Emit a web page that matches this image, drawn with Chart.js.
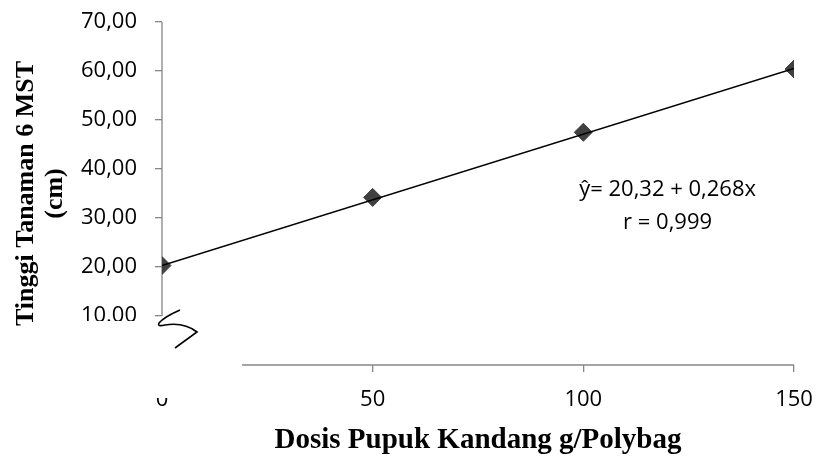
<!DOCTYPE html>
<html>
<head>
<meta charset="utf-8">
<script src="https://cdn.jsdelivr.net/npm/chart.js@4"></script>
<style>
  html, body { margin: 0; padding: 0; background: #fff; }
  #wrap { width: 817px; height: 457px; }
</style>
</head>
<body>
<div id="wrap"><canvas id="myChart" width="817" height="457"></canvas></div>
<script>
// dosis pupuk kandang (g/polybag) vs tinggi tanaman 6 MST (cm)
let dosis = [0, 50, 100, 150]
let tinggi = [20.3, 34.2, 47.5, 60.4]
// regression line y = 20,32 + 0,268x, end points
let trendX = [0, 150]
let trendY = [20.32, 60.52]
let xTickLabels = ['0', '50', '100', '150']
let yTickValues = [0, 10, 20, 30, 40, 50, 60, 70]
let yTickLabels = ['', '10.00', '20,00', '30,00', '40,00', '50,00', '60,00', '70,00']
let eqText = ['ŷ= 20,32 + 0,268x', 'r = 0,999']

var axisGray = '#868686';
var sans = "'Open Sans', 'Liberation Sans', sans-serif";
var serif = "'Liberation Serif', 'DejaVu Serif', serif";

/*~~~~~~~~~~~~~~~~~~~~~~ extras drawn on top ~~~~~~~~~~~~~~~~~~~~~~*/
var extras = {
  id: 'extras',
  beforeDatasetsDraw: function (chart) {
    var c = chart.ctx, xs = chart.scales.x, ys = chart.scales.y;
    c.save();
    c.strokeStyle = axisGray;
    c.lineWidth = 1.3;
    // y axis stops at 10, x axis starts a bit right of 0 (broken axis)
    c.beginPath();
    c.moveTo(xs.getPixelForValue(0), ys.getPixelForValue(70));
    c.lineTo(xs.getPixelForValue(0), ys.getPixelForValue(10));
    c.moveTo(xs.getPixelForValue(19), ys.getPixelForValue(0));
    c.lineTo(xs.getPixelForValue(150), ys.getPixelForValue(0));
    c.stroke();
    c.restore();
  },
  afterDraw: function (chart) {
    var c = chart.ctx, xs = chart.scales.x, ys = chart.scales.y;
    var x0 = xs.getPixelForValue(0), y10 = ys.getPixelForValue(10), y0 = ys.getPixelForValue(0);
    c.save();
    // cropped labels ("10.00" bottom and "0" top are cut off)
    c.fillStyle = '#fff';
    c.fillRect(72, y10 + 5, x0 - 80, 14);
    c.fillRect(x0 - 12, y0 + 2, 24, 31);
    // break mark
    c.strokeStyle = '#000';
    c.lineWidth = 1.6;
    c.beginPath();
    c.moveTo(x0 + 18, y10 - 6);
    c.quadraticCurveTo(x0 + 2, y10 + 1, x0 - 3, y10 + 7);
    c.quadraticCurveTo(x0 - 5, y10 + 11, x0 + 3, y10 + 9);
    c.quadraticCurveTo(x0 + 22, y10 + 6, x0 + 35, y10 + 16);
    c.lineTo(x0 + 13, y10 + 32);
    c.stroke();
    // equation
    c.fillStyle = '#000';
    c.font = '22px ' + sans;
    c.textAlign = 'center';
    c.textBaseline = 'middle';
    var ex = xs.getPixelForValue(120), ey = ys.getPixelForValue(35.7);
    c.fillText(eqText[0], ex, ey);
    c.fillText(eqText[1], ex, ey + 33);
    c.restore();
  }
};

var ctx = document.getElementById('myChart').getContext('2d');
var myChart = new Chart(ctx, {
  type: 'scatter',
  data: {
    datasets: [{
      label: 'trend',
      type: 'line',
      data: trendX.map(function (x, i) { return { x: x, y: trendY[i] }; }),
      borderColor: '#000',
      borderWidth: 1.5,
      pointRadius: 0,
      fill: false,
      order: 0
    }, {
      label: 'Tinggi Tanaman',
      data: dosis.map(function (x, i) { return { x: x, y: tinggi[i] }; }),
      backgroundColor: '#404040',
      borderColor: '#404040',
      pointStyle: 'rectRot',
      pointRadius: 9,
      pointHoverRadius: 9,
      order: 1
    }]
  },
  options: {
    responsive: false,
    animation: false,
    events: [],
    layout: { padding: { top: 22, right: 23, left: 0, bottom: 0 } },
    plugins: { legend: { display: false }, tooltip: { enabled: false } },
    scales: {
      x: {
        type: 'linear',
        min: 0, max: 150,
        afterFit: function (s) { s.height = 92; s.paddingLeft = 0; s.paddingRight = 0; },
        afterBuildTicks: function (s) { s.ticks = dosis.map(function (v) { return { value: v }; }); },
        border: { display: false },
        grid: {
          drawOnChartArea: false,
          tickLength: 7,
          lineWidth: 1.3,
          color: function (c) { return c.tick && c.tick.value === 0 ? 'rgba(0,0,0,0)' : axisGray; }
        },
        ticks: {
          maxRotation: 0,
          padding: 15,
          color: '#000',
          font: { family: sans, size: 22 },
          callback: function (v, i) { return xTickLabels[i]; }
        },
        title: {
          display: true,
          text: 'Dosis Pupuk Kandang g/Polybag',
          color: '#000',
          font: { family: serif, size: 29, weight: 'bold', lineHeight: 1.1 },
          padding: { top: 0, bottom: 1 }
        }
      },
      y: {
        min: 0, max: 70,
        afterFit: function (s) { s.width = 162; s.paddingTop = 0; s.paddingBottom = 0; },
        afterBuildTicks: function (s) { s.ticks = yTickValues.map(function (v) { return { value: v }; }); },
        border: { display: false },
        grid: {
          drawOnChartArea: false,
          tickLength: 7,
          lineWidth: 1.3,
          color: function (c) { return c.tick && c.tick.value === 0 ? 'rgba(0,0,0,0)' : axisGray; }
        },
        ticks: {
          padding: 18,
          color: '#000',
          font: { family: sans, size: 22 },
          callback: function (v, i) { return yTickLabels[i]; }
        },
        title: {
          display: true,
          text: ['Tinggi Tanaman 6 MST', '(cm)'],
          color: '#000',
          font: { family: serif, size: 26, weight: 'bold', lineHeight: 1.1 },
          padding: { top: 12, bottom: 0 }
        }
      }
    }
  },
  plugins: [extras]
});
</script>
</body>
</html>
